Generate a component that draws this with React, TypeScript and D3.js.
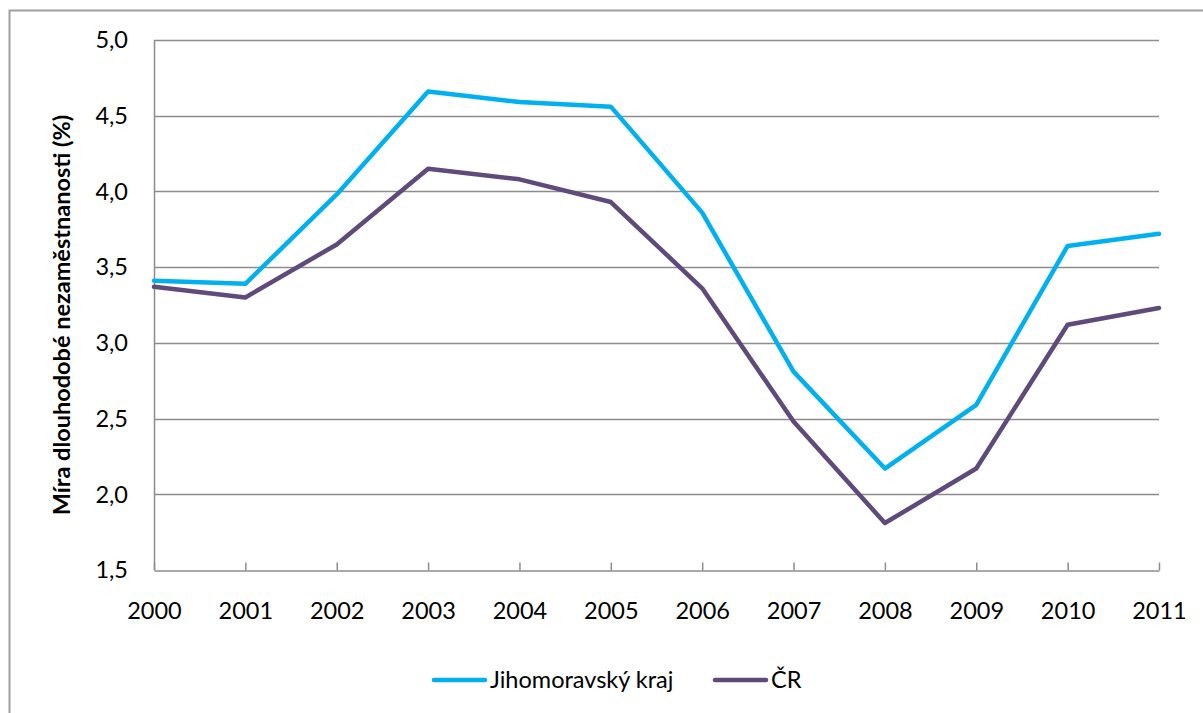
import * as d3 from "d3";
import React, { useEffect, useRef } from "react";

const years = ["2000", "2001", "2002", "2003", "2004", "2005", "2006", "2007", "2008", "2009", "2010", "2011"];
const jihomoravsky = [3.41, 3.39, 3.98, 4.66, 4.59, 4.56, 3.86, 2.81, 2.17, 2.59, 3.64, 3.72];
const cr = [3.37, 3.3, 3.65, 4.15, 4.08, 3.93, 3.36, 2.48, 1.81, 2.17, 3.12, 3.23];
const yTicks = [1.5, 2.0, 2.5, 3.0, 3.5, 4.0, 4.5, 5.0];
const seriesNames = ["Jihomoravský kraj", "ČR"];
const colors = ["#00b0f0", "#604a7b"];

const App = () => {
  const svgRef = useRef<SVGSVGElement | null>(null);

  useEffect(() => {
    const svg = d3.select(svgRef.current);
    svg.selectAll("*").remove();
    const font = "Lato, 'Open Sans', sans-serif";
    const fs = 23.5;

    const margin = { top: 40, left: 154, right: 1159, bottom: 570 };

    // chart frame
    svg
      .append("rect")
      .attr("x", 9.5)
      .attr("y", 10.5)
      .attr("width", 1210)
      .attr("height", 720)
      .attr("fill", "#fff")
      .attr("stroke", "#a0a0a0")
      .attr("stroke-width", 2);

    const x = d3.scalePoint().domain(years).range([margin.left, margin.right]);
    const y = d3.scaleLinear().domain([1.5, 5]).range([margin.bottom, margin.top]);

    // gridlines
    svg
      .append("g")
      .selectAll("line")
      .data(yTicks.filter((t) => t > 1.5))
      .enter()
      .append("line")
      .attr("x1", margin.left)
      .attr("x2", margin.right)
      .attr("y1", (d) => Math.round(y(d)) + 0.5)
      .attr("y2", (d) => Math.round(y(d)) + 0.5)
      .attr("stroke", "#8c8c8c")
      .attr("stroke-width", 1.5);

    // y axis
    svg
      .append("line")
      .attr("x1", margin.left + 0.5)
      .attr("x2", margin.left + 0.5)
      .attr("y1", margin.top)
      .attr("y2", margin.bottom)
      .attr("stroke", "#8c8c8c")
      .attr("stroke-width", 1.5);

    svg
      .append("g")
      .selectAll("text")
      .data(yTicks)
      .enter()
      .append("text")
      .attr("x", 128)
      .attr("y", (d) => y(d))
      .attr("dy", "0.35em")
      .attr("text-anchor", "end")
      .attr("font-family", font)
      .attr("font-size", fs)
      .attr("fill", "#000")
      .text((d) => d3.format(".1f")(d).replace(".", ","));

    // x axis
    const xAxis = svg
      .append("g")
      .attr("transform", `translate(0,${margin.bottom + 0.5})`)
      .call(d3.axisBottom(x).tickSizeInner(-8).tickSizeOuter(0).tickPadding(32));
    xAxis.select(".domain").attr("stroke", "#8c8c8c").attr("stroke-width", 1.5);
    xAxis.selectAll(".tick line").attr("stroke", "#8c8c8c").attr("stroke-width", 1.5);
    xAxis
      .selectAll(".tick text")
      .attr("font-family", font)
      .attr("font-size", fs)
      .attr("fill", "#000");

    // y axis title
    svg
      .append("text")
      .attr("transform", `translate(70,${(margin.top + margin.bottom) / 2 + 10}) rotate(-90)`)
      .attr("text-anchor", "middle")
      .attr("font-family", font)
      .attr("font-size", fs)
      .attr("font-weight", "bold")
      .attr("fill", "#000")
      .text("Míra dlouhodobé nezaměstnanosti (%)");

    // lines
    const line = d3
      .line<number>()
      .x((d, i) => x(years[i]) as number)
      .y((d) => y(d));

    [jihomoravsky, cr].forEach((values, i) => {
      svg
        .append("path")
        .datum(values)
        .attr("d", line)
        .attr("fill", "none")
        .attr("stroke", colors[i])
        .attr("stroke-width", 4.5)
        .attr("stroke-linejoin", "round")
        .attr("stroke-linecap", "round");
    });

    // legend
    const legendX = [432, 713];
    seriesNames.forEach((name, i) => {
      const lg = svg.append("g").attr("transform", `translate(${legendX[i]},680)`);
      lg.append("line")
        .attr("x1", 2)
        .attr("x2", 53)
        .attr("stroke", colors[i])
        .attr("stroke-width", 4.5)
        .attr("stroke-linecap", "round");
      lg.append("text")
        .attr("x", 58)
        .attr("dy", "0.35em")
        .attr("font-family", font)
        .attr("font-size", fs)
        .attr("fill", "#000")
        .text(name);
    });
  }, []);

  return (
    <svg
      ref={svgRef}
      width={1203}
      height={713}
      style={{ position: "absolute", left: 0, top: 0, background: "#fff" }}
    ></svg>
  );
};

export default App;
